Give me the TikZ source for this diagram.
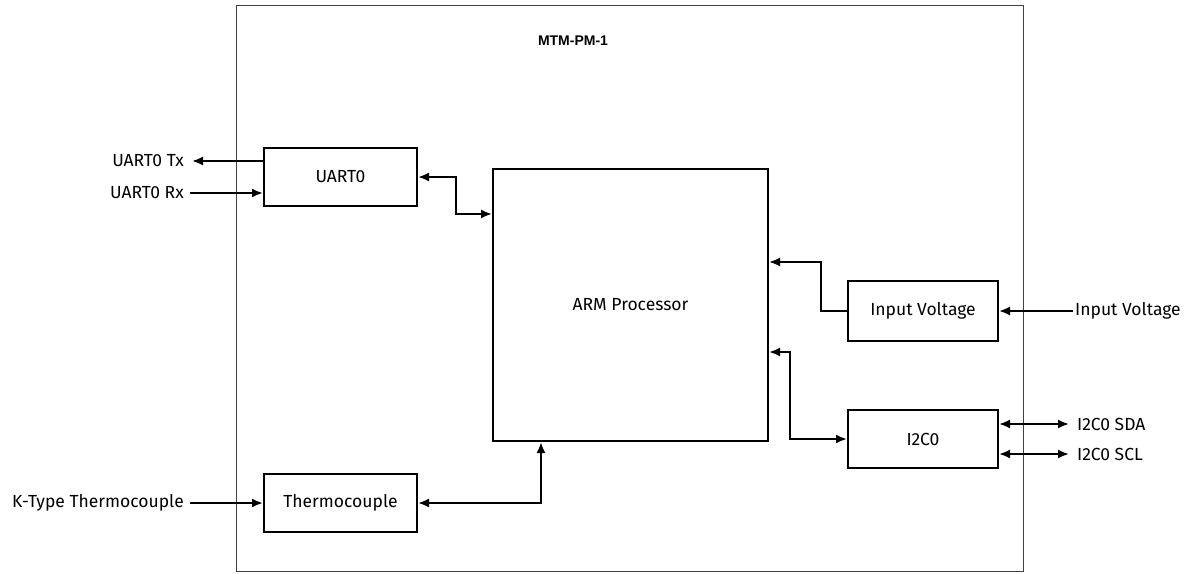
\documentclass[tikz,border=0pt]{standalone}
\usepackage{fontspec}
\setmainfont{Fira Sans}
\newfontfamily\titlefont{Liberation Sans}
\usetikzlibrary{arrows.meta}
\begin{document}
\begin{tikzpicture}[x=1pt,y=-1pt,
  blk/.style={draw,line width=2pt,minimum width=153pt,minimum height=58pt,inner sep=0pt,font=\fontsize{17.5}{20}\selectfont},
  lbl/.style={font=\fontsize{17.5}{20}\selectfont,inner sep=0pt},
  conn/.style={line width=2pt,arrows={-{Latex[length=11pt,width=9pt]}}},
  both/.style={line width=2pt,arrows={{Latex[length=11pt,width=9pt]}-{Latex[length=11pt,width=9pt]}}}]
\useasboundingbox (0,0) rectangle (1191,573);
\draw[line width=1pt,black!75] (236,5) rectangle (1023,571);
\node[font=\titlefont\bfseries\fontsize{14}{16}\selectfont] (title) at (573,41) {MTM-PM-1};
% blocks
\node[blk] (uart) at (340.5,177) {UART0};
\node[blk,minimum width=275pt,minimum height=272pt] (arm) at (630.5,305) {ARM Processor};
\node[blk,minimum width=150pt,minimum height=60pt] (vin) at (923,311) {Input Voltage};
\node[blk,minimum width=150pt,minimum height=58pt] (i2c) at (923,439) {I2C0};
\node[blk] (thermo) at (340.5,503) {Thermocouple};
% external labels
\node[lbl,anchor=east] (tx) at (184,161) {UART0 Tx};
\node[lbl,anchor=east] (rx) at (184,193) {UART0 Rx};
\node[lbl,anchor=east] (kt) at (184,503) {K-Type Thermocouple};
\node[lbl,anchor=west] (vinx) at (1075,311) {Input Voltage};
\node[lbl,anchor=west] (sda) at (1077,424) {I2C0 SDA};
\node[lbl,anchor=west] (scl) at (1077,454) {I2C0 SCL};
% connectors
\draw[conn] (uart.west |- tx) -- ([xshift=8pt]tx.east);
\draw[conn] ([xshift=6pt]rx.east) -- (uart.west |- rx);
\draw[conn] ([xshift=6pt]kt.east) -- (thermo.west);
\draw[both] (uart.east) -| (456,214) -- (arm.west |- 0,214);
\draw[conn] (vin.west) -| (821,262) -- (arm.east |- 0,262);
\draw[both] (arm.east |- 0,352) -| (790,439) -- (i2c.west);
\draw[both] (thermo.east) -| (arm.south -| 541,0);
\draw[conn] ([xshift=-2pt]vinx.west) -- (vin.east);
\draw[both] (i2c.east |- sda) -- ([xshift=-8pt]sda.west);
\draw[both] (i2c.east |- scl) -- ([xshift=-8pt]scl.west);
\end{tikzpicture}
\end{document}
